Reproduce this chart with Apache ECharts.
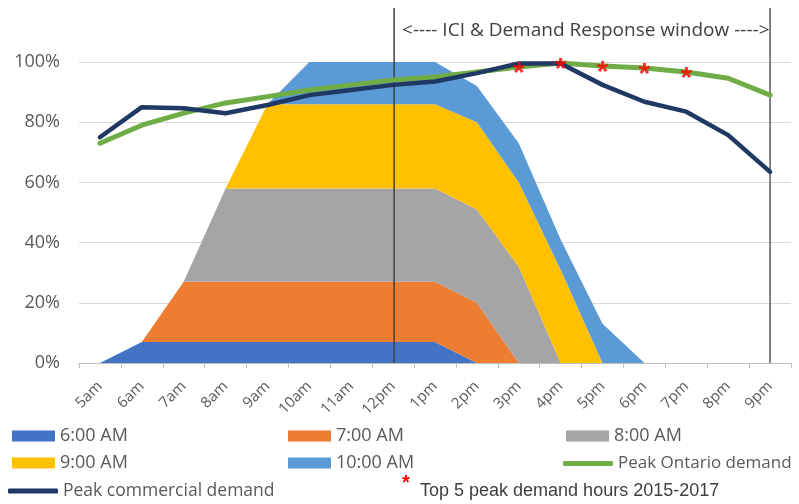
<!DOCTYPE html>
<html>
<head>
<meta charset="utf-8">
<script src="https://cdn.jsdelivr.net/npm/echarts@6/dist/echarts.min.js"></script>
<style>html,body{margin:0;padding:0;background:#fff;}#c{width:799px;height:504px;}</style>
</head>
<body>
<div id="c"></div>
<script>
const hours = ['5am','6am','7am','8am','9am','10am','11am','12pm','1pm','2pm','3pm','4pm','5pm','6pm','7pm','8pm','9pm'];
const start6  = [0,7,7,7,7,7,7,7,7,0,0,0,0,0,0,0,0];
const start7  = [0,0,20,20,20,20,20,20,20,20,0,0,0,0,0,0,0];
const start8  = [0,0,0,31,31,31,31,31,31,31,32,0,0,0,0,0,0];
const start9  = [0,0,0,0,28,28,28,28,28,29,28,31,0,0,0,0,0];
const start10 = [0,0,0,0,0,14,14,14,14,12,13,10,13,0,0,0,0];
const ontario    = [73,79,83,86.4,88.5,90.7,92.4,94,95,96.7,98.3,99.7,98.7,98,96.7,94.6,89];
const commercial = [75,85,84.6,83,85.7,89,90.7,92.4,93.5,96.3,99.5,99.5,92.4,86.8,83.5,75.7,63.5];
const topHours = ['3pm','4pm','5pm','6pm','7pm'];
const windowStart = '12pm';
const windowEnd = '9pm';

const FONT = 'Open Sans';
const chart = echarts.init(document.getElementById('c'), null, {renderer:'canvas'});

function area(name, data, color){
  return {name, type:'line', stack:'s', data, symbol:'none', z:2,
    lineStyle:{width:0}, areaStyle:{color, opacity:1}, itemStyle:{color}};
}
function leg(name, left, top, size, extra){
  return Object.assign({data:[name], left, top, padding:0, icon:'rect', itemWidth:43, itemHeight:11, itemGap:0,
    textStyle:{fontFamily:FONT, fontSize:size, color:'#595959'}, selectedMode:false}, extra||{});
}
const lineLeg = {icon:'roundRect', itemWidth:50, itemHeight:5};

const starData = topHours.map(h => [h, ontario[hours.indexOf(h)]]);

chart.setOption({
  animation:false,
  grid:{left:79, right:8, top:62, bottom:141, containLabel:false},
  xAxis:{type:'category', data:hours, boundaryGap:true,
    axisLine:{lineStyle:{color:'#bfbfbf'}},
    axisTick:{show:true, length:5, lineStyle:{color:'#bfbfbf'}},
    axisLabel:{rotate:45, fontFamily:FONT, fontSize:15, color:'#595959', margin:21, interval:0}},
  yAxis:{type:'value', min:0, max:100, interval:20,
    axisLine:{show:false}, axisTick:{show:false},
    axisLabel:{formatter:'{value}%', fontFamily:FONT, fontSize:18, color:'#595959', margin:19},
    splitLine:{lineStyle:{color:'#d9d9d9', width:1}}},
  legend:[
    leg('6:00 AM', 12, 427, 18),
    leg('7:00 AM', 288, 427, 18),
    leg('8:00 AM', 566, 427, 18),
    leg('9:00 AM', 12, 454, 18),
    leg('10:00 AM', 288, 454, 18),
    leg('Peak Ontario demand', 563, 455, 17, lineLeg),
    leg('Peak commercial demand', 8, 482, 17.5, lineLeg)
  ],
  series:[
    area('6:00 AM', start6, '#4472C4'),
    area('7:00 AM', start7, '#ED7D31'),
    area('8:00 AM', start8, '#A5A5A5'),
    area('9:00 AM', start9, '#FFC000'),
    area('10:00 AM', start10, '#5B9BD5'),
    {name:'Peak Ontario demand', type:'line', data:ontario, symbol:'none', z:4,
      lineStyle:{width:5, color:'#70AD47', cap:'round', join:'round'}, itemStyle:{color:'#70AD47'}},
    {name:'Peak commercial demand', type:'line', data:commercial, symbol:'none', z:5,
      lineStyle:{width:4.5, color:'#203864', cap:'round', join:'round'}, itemStyle:{color:'#203864'}},
    {name:'Top 5', type:'scatter', data:starData, symbolSize:1, z:6,
      itemStyle:{color:'rgba(0,0,0,0)'},
      label:{show:true, formatter:'*', position:'inside', fontFamily:'Liberation Sans', fontSize:30, fontWeight:'bold', color:'#FF0000', offset:[0,7]}}
  ]
});

const x0 = chart.convertToPixel({xAxisIndex:0}, windowStart);
const x1 = chart.convertToPixel({xAxisIndex:0}, windowEnd);
const yBase = chart.convertToPixel({yAxisIndex:0}, 0);
chart.setOption({
  graphic:[
    {type:'line', z:3, shape:{x1:x0+1, y1:8, x2:x0+1, y2:yBase}, style:{stroke:'#404040', lineWidth:1.5}},
    {type:'line', z:3, shape:{x1:x1, y1:8, x2:x1, y2:yBase}, style:{stroke:'#595959', lineWidth:1.5}},
    {type:'text', z:7, left:x0+9, top:21, style:{text:'<---- ICI & Demand Response window ---->', fontFamily:FONT, fontSize:19, fill:'#404040'}},
    {type:'text', z:7, left:402, top:473, style:{text:'*', fontFamily:'Liberation Sans', fontSize:20, fontWeight:'bold', fill:'#FF0000'}},
    {type:'text', z:7, left:420, top:482, style:{text:'Top 5 peak demand hours 2015-2017', fontFamily:'Liberation Sans', fontSize:18, fill:'#404040'}}
  ]
});
</script>
</body>
</html>
